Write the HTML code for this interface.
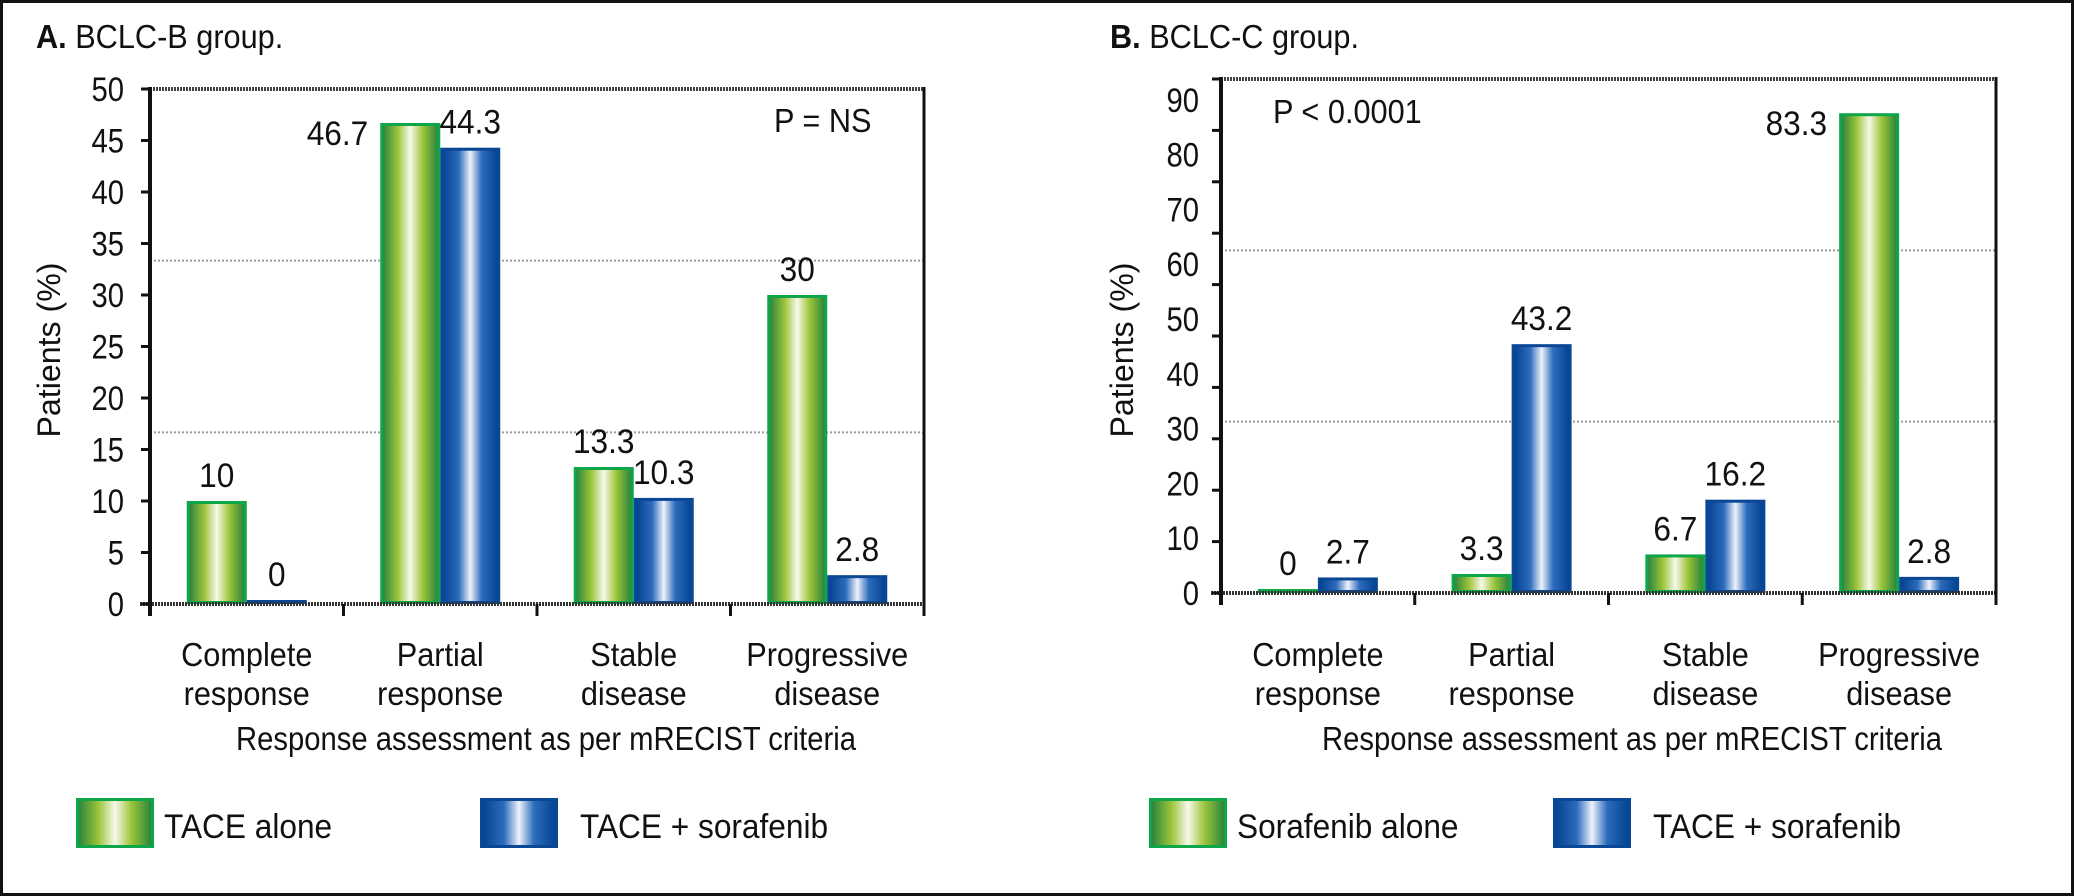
<!DOCTYPE html>
<html><head><meta charset="utf-8"><style>
html,body{margin:0;padding:0;background:#fff;}
svg{display:block;font-family:"Liberation Sans",sans-serif;}
</style></head><body>
<svg id="root" width="2074" height="896" viewBox="0 0 2074 896" xmlns="http://www.w3.org/2000/svg">
<defs>
<linearGradient id="gGreen" x1="0" x2="1" y1="0" y2="0">
<stop offset="0" stop-color="#23803c"/><stop offset="0.28" stop-color="#9cc43a"/><stop offset="0.5" stop-color="#f6f9ea"/><stop offset="0.72" stop-color="#9cc43a"/><stop offset="1" stop-color="#23803c"/>
</linearGradient>
<linearGradient id="gBlue" x1="0" x2="1" y1="0" y2="0">
<stop offset="0" stop-color="#00418f"/><stop offset="0.3" stop-color="#2d6cbc"/><stop offset="0.5" stop-color="#eef2fa"/><stop offset="0.7" stop-color="#2d6cbc"/><stop offset="1" stop-color="#00418f"/>
</linearGradient>
</defs>
<rect x="1.5" y="1.5" width="2071" height="893" fill="#fff" stroke="#111" stroke-width="3"/>
</svg>
<script>
const categories = [["Complete","response"],["Partial","response"],["Stable","disease"],["Progressive","disease"]];
const aGreen = [10, 46.7, 13.3, 30];
const aBlue = [0, 44.3, 10.3, 2.8];
const bGreen = [0, 3.3, 6.7, 83.3];
const bBlue = [2.7, 43.2, 16.2, 2.8];
const aTicks = [0,5,10,15,20,25,30,35,40,45,50];
const bTicks = [0,10,20,30,40,50,60,70,80,90];

const NS = "http://www.w3.org/2000/svg";
const SX = 0.93;
const root = document.getElementById("root");
function mk(tag, attrs, parent){
  const e = document.createElementNS(NS, tag);
  for (const k in attrs) e.setAttribute(k, attrs[k]);
  (parent||root).appendChild(e);
  return e;
}
function txt(parent, s, x, y, size, anchor, sx){
  const t = mk("text", {transform:"translate("+x+","+y+") scale("+sx+",1)", x:0, y:0, "font-size":size, "text-anchor":anchor, fill:"#111"}, parent);
  t.textContent = s;
  return t;
}

function chart(cfg){
  const g = mk("g", {});
  
  
  const x0=cfg.x0, x1=cfg.x1, y0=cfg.y0, yTop=cfg.yTop;
  const cw=(x1-x0)/categories.length, bw=60;
  const yBar = v => y0 - v*cfg.barScale;
  const yLab = v => y0 - v*cfg.labScale;

  const tt = mk("text", {transform:"translate("+cfg.titleX+",48) scale("+SX+",1)", x:0, y:0, "font-size":33, fill:"#111"}, g);
  
  
  const b = mk("tspan", {"font-weight":"bold"}, tt); b.textContent = cfg.letter + " ";
  const r = mk("tspan", {}, tt); r.textContent = cfg.title;

  for (let i=1;i<=2;i++){
    const gy = yTop + (y0-yTop)*i/3;
    const gl = mk("line", {x1:x0, x2:x1, y1:gy, y2:gy, stroke:"#9a9a9a", "stroke-width":2, "stroke-dasharray":"2,2"}, g);
    
    
  }
  const tb = mk("line", {x1:x0, x2:x1, y1:yTop, y2:yTop, stroke:"#444", "stroke-width":4, "stroke-dasharray":"2,1"}, g);
  
  

  const series = [[cfg.green,"url(#gGreen)","#0fa64a","green"],[cfg.blue,"url(#gBlue)","#0a4795","blue"]];
  categories.forEach((c,i)=>{
    const gx = x0 + i*cw + (cw-2*bw)/2;
    series.forEach((s,j)=>{
      const v = s[0][i];
      const top = yBar(v);
      const h = Math.max(y0-top, 4);
      const bx = gx + j*bw;
      const rect = mk("rect", {x:bx+1.5, y:y0-h+1.5, width:bw-3, height:Math.max(h-3,1), fill:s[1], stroke:s[2], "stroke-width":3}, g);
      
      
      let lt;
      if (top < yTop + 40){
        lt = txt(g, String(v), bx-12, top+22, 34, "end", SX);
      } else {
        lt = txt(g, String(v), bx+bw/2, Math.min(top, y0-4)-14, 34, "middle", SX);
      }
      
      
    });
    const cl1 = txt(g, c[0], x0 + (i+0.5)*cw, 666, 33, "middle", SX);
    
    
    const cl2 = txt(g, c[1], x0 + (i+0.5)*cw, 705, 33, "middle", SX);
    
    
  });

  const ba = mk("line", {x1:x0-10, x2:x1, y1:y0, y2:y0, stroke:"#333", "stroke-width":4, "stroke-dasharray":"2,1"}, g);
  
  
  for (let i=1;i<categories.length;i++){
    const tx = x0 + i*cw;
    const tk = mk("line", {x1:tx, x2:tx, y1:y0, y2:y0+12, stroke:"#111", "stroke-width":3}, g);
    
    
  }
  const la = mk("line", {x1:x0, x2:x0, y1:yTop-2, y2:y0+12, stroke:"#111", "stroke-width":4}, g);
  
  
  const rb = mk("line", {x1:x1, x2:x1, y1:yTop-2, y2:y0+12, stroke:"#111", "stroke-width":3}, g);
  
  

  for (let k=0;k<=cfg.nTicks;k++){
    const ty = y0 - (y0-yTop)*k/cfg.nTicks;
    const tk = mk("line", {x1:x0-9, x2:x0, y1:ty, y2:ty, stroke:"#111", "stroke-width":3}, g);
    
    
  }
  cfg.ticks.forEach(v=>{
    const tl = txt(g, String(v), cfg.labX, yLab(v)+12, 34, "end", 0.86);
    
    
  });

  const yt = mk("text", {transform:"translate("+cfg.yTitleX+",350) rotate(-90)", x:0, y:0, "font-size":32, "text-anchor":"middle", fill:"#111", textLength:175, lengthAdjust:"spacingAndGlyphs"}, g);
  yt.textContent = "Patients (%)";
  
  

  const xt = mk("text", {x:cfg.xTitleX, y:750, "font-size":33, "text-anchor":"middle", fill:"#111", textLength:620, lengthAdjust:"spacingAndGlyphs"}, g);
  xt.textContent = "Response assessment as per mRECIST criteria";
  
  

  const pv = txt(g, cfg.p, cfg.pX, cfg.pY, 33, "start", SX);
  
  

  const lg1 = mk("rect", {x:cfg.legX+1.5, y:799.5, width:75, height:47, fill:"url(#gGreen)", stroke:"#0fa64a", "stroke-width":3}, g);
  
  
  const lt1 = txt(g, cfg.leg1, cfg.legX+88, 838, 34, "start", SX);
  
  
  const lg2 = mk("rect", {x:cfg.legX+405.5, y:799.5, width:75, height:47, fill:"url(#gBlue)", stroke:"#0a4795", "stroke-width":3}, g);
  
  
  const lt2 = txt(g, "TACE + sorafenib", cfg.legX+504, 838, 34, "start", SX);
  
  
}

chart({name:"chart-a-bclc-b", letter:"A.", title:"BCLC-B group.", titleX:36,
  x0:150, x1:924, y0:604, yTop:89, barScale:10.3, labScale:10.3, nTicks:10,
  ticks:aTicks, green:aGreen, blue:aBlue, labX:124, yTitleX:60, xTitleX:546,
  p:"P = NS", pX:774, pY:132, legX:76, leg1:"TACE alone"});
chart({name:"chart-b-bclc-c", letter:"B.", title:"BCLC-C group.", titleX:1110,
  x0:1221, x1:1996, y0:593, yTop:79, barScale:5.76, labScale:5.48, nTicks:10,
  ticks:bTicks, green:bGreen, blue:bBlue, labX:1199, yTitleX:1133, xTitleX:1632,
  p:"P < 0.0001", pX:1273, pY:123, legX:1149, leg1:"Sorafenib alone"});
</script>
</body></html>
